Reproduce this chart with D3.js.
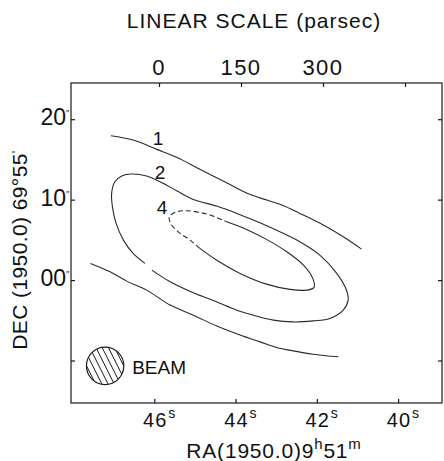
<!DOCTYPE html>
<html>
<head>
<meta charset="utf-8">
<script src="https://cdn.jsdelivr.net/npm/d3@7"></script>
<style>
  html, body { margin: 0; padding: 0; background: #fff; }
  svg { display: block; }
  text { font-family: "Liberation Sans", Arial, sans-serif; fill: #111; }
</style>
</head>
<body>
<svg id="chart" width="444" height="461"></svg>
<script>
// Axis ticks
const raTicks = [46, 44, 42, 40];             // RA seconds (9h51m + s)
const decTicks = [20, 10, 0, -10];            // Dec arcsec offset (69°55' + ")
const decTickLabels = ["20", "10", "00", ""];
const pcTicks = [0, 150, 300, 450];           // linear scale, parsec
const pcTickLabels = ["0", "150", "300", ""];

// Contour levels and their lines, as [RA seconds, Dec arcsec]
const levels = [1, 2, 4];

const contour1Upper = [
  [47.07, 17.95], [46.52, 17.41], [45.94, 16.25], [45.45, 15.26], [44.88, 13.77],
  [44.22, 12.10], [43.65, 10.66], [43.23, 9.95], [42.86, 9.33], [42.42, 8.29],
  [41.84, 6.84], [41.35, 5.38], [40.90, 3.85]
];
const contour1Lower = [
  [47.57, 2.07], [47.09, 1.03], [46.68, -0.13], [46.19, -1.25], [45.61, -3.11],
  [45.04, -4.36], [44.46, -5.72], [43.89, -6.84], [43.40, -7.68], [42.99, -8.37],
  [42.58, -8.80], [42.09, -9.21], [41.47, -9.54]
];
const contour2 = [
  [46.23, 2.07], [46.52, 3.32], [46.76, 4.97], [46.94, 7.05], [47.03, 9.11],
  [47.05, 10.78], [46.97, 12.22], [46.80, 12.93], [46.56, 13.18], [46.19, 12.93],
  [45.86, 12.22], [45.45, 11.10], [45.04, 10.03], [44.47, 9.20], [43.97, 8.29],
  [43.40, 7.12], [42.91, 6.00], [42.42, 4.76], [41.92, 3.07], [41.51, 0.83],
  [41.27, -1.26], [41.23, -2.50], [41.35, -3.74], [41.68, -4.78], [42.09, -5.07],
  [42.58, -5.20], [43.07, -4.98], [43.56, -4.36], [43.97, -3.74], [44.47, -2.70],
  [45.04, -1.58], [45.61, -0.21], [46.06, 1.24]
];
// Level 4: broken (dashed) western half, solid eastern half
const contour4Dashed = [
  [44.88, 3.94], [45.12, 4.97], [45.41, 6.00], [45.60, 7.05], [45.63, 7.87],
  [45.45, 8.49], [45.20, 8.62], [44.71, 8.21], [44.22, 7.25]
];
const contour4Solid = [
  [44.22, 7.25], [43.73, 6.30], [43.24, 5.06], [42.74, 3.52], [42.33, 1.86],
  [42.10, 0.21], [42.07, -0.91], [42.25, -1.25], [42.66, -1.16], [43.24, -0.50],
  [43.89, 0.83], [44.47, 2.49], [44.88, 3.94]
];

// Level label anchors [RA, Dec]
const levelLabelAt = [[45.91, 16.79], [45.86, 12.56], [45.81, 8.27]];

// Beam: centre [RA, Dec] and diameter in arcsec
const beamCentre = [47.21, -10.66];
const beamDiameter = 4.65;

// ---------------------------------------------------------------
const svg = d3.select("#chart");
const frame = { left: 71, right: 442, top: 83, bottom: 403 };

const x = d3.scaleLinear().domain([48.05, 38.92]).range([frame.left, frame.right]);
const y = d3.scaleLinear().domain([-15.28, 24.5]).range([frame.bottom, frame.top]);
const xPc = d3.scaleLinear().domain([-161, 517.7]).range([frame.left, frame.right]);

const ink = "#1a1a1a";

// Frame
svg.append("rect")
  .attr("x", frame.left).attr("y", frame.top)
  .attr("width", frame.right - frame.left).attr("height", frame.bottom - frame.top)
  .attr("fill", "none").attr("stroke", ink).attr("stroke-width", 1.2);

// Inward ticks via d3 axes (domain line hidden, frame drawn above)
function tickAxis(axis, transform) {
  const g = svg.append("g").attr("transform", transform).call(axis);
  g.select(".domain").remove();
  g.selectAll(".tick line").attr("stroke", ink).attr("stroke-width", 1.2);
  g.selectAll(".tick text").remove();
  return g;
}
tickAxis(d3.axisBottom(x).tickValues(raTicks).tickSizeInner(-4).tickSizeOuter(0), `translate(0,${frame.bottom})`);
tickAxis(d3.axisTop(xPc).tickValues(pcTicks).tickSizeInner(-4).tickSizeOuter(0), `translate(0,${frame.top})`);
tickAxis(d3.axisLeft(y).tickValues(decTicks).tickSizeInner(-4).tickSizeOuter(0), `translate(${frame.left},0)`);
tickAxis(d3.axisRight(y).tickValues(decTicks).tickSizeInner(-4).tickSizeOuter(0), `translate(${frame.right},0)`);

// Bottom tick labels: seconds of RA with superscript s
const bl = svg.append("g");
raTicks.forEach(v => {
  bl.append("text").attr("x", x(v) + 1).attr("y", frame.bottom + 24)
    .attr("text-anchor", "middle").attr("font-size", 20).attr("letter-spacing", 1.2).text(v);
  bl.append("text").attr("x", x(v) + 14).attr("y", frame.bottom + 15)
    .attr("font-size", 14).text("s");
});

// Left tick labels: arcsec with double prime
decTicks.forEach((v, i) => {
  if (!decTickLabels[i]) return;
  svg.append("text").attr("x", frame.left - 5).attr("y", y(v) + 6)
    .attr("text-anchor", "end").attr("font-size", 23).text(decTickLabels[i]);
  svg.append("text").attr("x", frame.left - 5).attr("y", y(v) - 3)
    .attr("font-size", 9).text("\u2033");
});

// Top tick labels: parsec
pcTicks.forEach((v, i) => {
  if (!pcTickLabels[i]) return;
  svg.append("text").attr("x", xPc(v)).attr("y", 75)
    .attr("text-anchor", "middle").attr("font-size", 22)
    .attr("letter-spacing", 1.5).text(pcTickLabels[i]);
});

// Titles
svg.append("text").attr("x", 254).attr("y", 28)
  .attr("text-anchor", "middle").attr("font-size", 21).attr("letter-spacing", 1)
  .text("LINEAR SCALE (parsec)");

const xt = svg.append("text").attr("x", 274).attr("y", 458)
  .attr("text-anchor", "middle").attr("font-size", 21).attr("letter-spacing", 0.8);
xt.append("tspan").text("RA(1950.0)9");
xt.append("tspan").attr("dy", -9).attr("font-size", 15).text("h");
xt.append("tspan").attr("dy", 9).text("51");
xt.append("tspan").attr("dy", -9).attr("font-size", 15).text("m");

const yt = svg.append("text")
  .attr("transform", "translate(27,250) rotate(-90)")
  .attr("text-anchor", "middle").attr("font-size", 21).attr("letter-spacing", 0.4);
yt.append("tspan").text("DEC (1950.0) 69°55");
yt.append("tspan").attr("dy", -6).attr("font-size", 13).text("'");

// Contours
const line = d3.line().x(d => x(d[0])).y(d => y(d[1])).curve(d3.curveCatmullRom.alpha(0.5));
const contourStyle = sel => sel.attr("fill", "none").attr("stroke", "#2a2a2a").attr("stroke-width", 1.1);

const cg = svg.append("g");
[contour1Upper, contour1Lower, contour2, contour4Solid].forEach(c => {
  cg.append("path").attr("d", line(c)).call(contourStyle);
});
cg.append("path").attr("d", line(contour4Dashed)).call(contourStyle)
  .attr("stroke-dasharray", "5 3");

// Level labels
levels.forEach((lv, i) => {
  svg.append("text").attr("x", x(levelLabelAt[i][0])).attr("y", y(levelLabelAt[i][1]))
    .attr("text-anchor", "middle").attr("font-size", 19).text(lv);
});

// Beam: hatched circle
const bcx = x(beamCentre[0]), bcy = y(beamCentre[1]);
const br = (y(0) - y(beamDiameter)) / 2;
const defs = svg.append("defs");
defs.append("clipPath").attr("id", "beamClip")
  .append("circle").attr("cx", bcx).attr("cy", bcy).attr("r", br);
const hatch = svg.append("g").attr("clip-path", "url(#beamClip)");
d3.range(-5, 6).forEach(k => {
  const off = k * 6.2;
  hatch.append("line")
    .attr("x1", bcx + off - 13).attr("y1", bcy - 26)
    .attr("x2", bcx + off + 13).attr("y2", bcy + 26)
    .attr("stroke", ink).attr("stroke-width", 1);
});
svg.append("circle").attr("cx", bcx).attr("cy", bcy).attr("r", br)
  .attr("fill", "none").attr("stroke", ink).attr("stroke-width", 1.2);
svg.append("text").attr("x", bcx + 27).attr("y", bcy + 8)
  .attr("font-size", 19).text("BEAM");
</script>
</body>
</html>
